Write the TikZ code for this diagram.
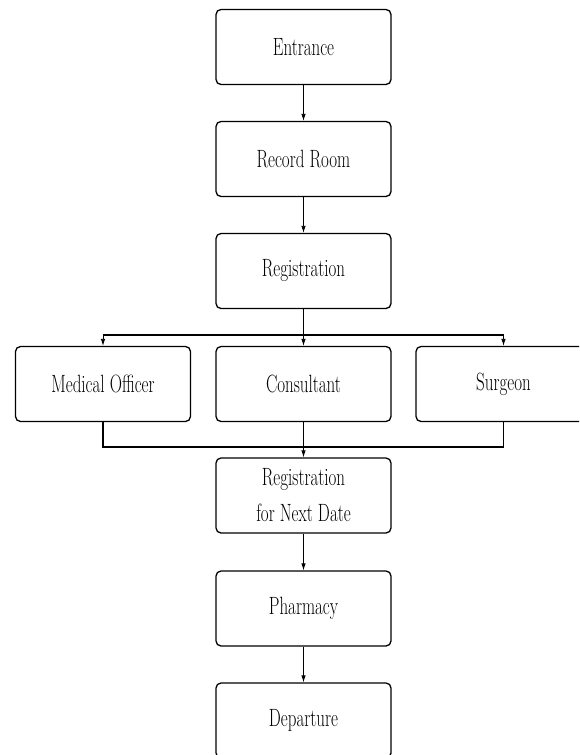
\documentclass[tikz,border=0pt]{standalone}
\usepackage{fontspec}
\setmainfont{Latin Modern Roman}[FakeStretch=0.68]
\usepackage{tikz}
\usetikzlibrary{arrows.meta}
\tikzset{
	room/.style={draw, rounded corners=5pt, minimum width=175pt, minimum height=75pt, line width=1.3pt, align=center, font=\fontsize{25}{36}\selectfont},
	flow/.style={-{Latex[length=7pt,width=4.5pt]}, line width=0.8pt},
	pipe/.style={line width=1.2pt}
}

\begin{document}
\begin{tikzpicture}[x=1pt, y=1pt]
			%%%%% START %%%%%
			
			\useasboundingbox (0, 0) rectangle (579, -755);
			\clip (0, 0) rectangle (579, -755);
			
			\node[room] (ent) at (303.5, -47) {Entrance};
			\node[room] (rec) at (303.5, -159) {Record Room};
			\node[room] (reg) at (303.5, -271) {Registration};
			
			\node[room] (med) at (103, -384) {Medical Officer};
			\node[room] (con) at (303.5, -384) {Consultant};
			\node[room] (sur) at (503.5, -384) {Surgeon};
			
			\node[room] (nxt) at (303.5, -495.5) {Registration\\for Next Date};
			\node[room] (pha) at (303.5, -608.5) {Pharmacy};
			\node[room] (dep) at (303.5, -720.5) {Departure};
			
			\coordinate (split) at (303.5, -335);
			\coordinate (join) at (303.5, -447);
			
			\draw[flow] (ent) -- (rec);
			\draw[flow] (rec) -- (reg);
			
			\draw[pipe] (reg) -- (split);
			\draw[pipe] (split -| med) -- (split -| sur);
			\draw[flow] (split -| med) -- (med);
			\draw[flow] (split) -- (con);
			\draw[flow] (split -| sur) -- (sur);
			
			\draw[pipe] (med) |- (join) -| (sur);
			\draw[pipe] (con) -- (join);
			\draw[flow] (join) -- (nxt);
			
			\draw[flow] (nxt) -- (pha);
			\draw[flow] (pha) -- (dep);
			
			%%%%% END %%%%%
		\end{tikzpicture}
\end{document}
